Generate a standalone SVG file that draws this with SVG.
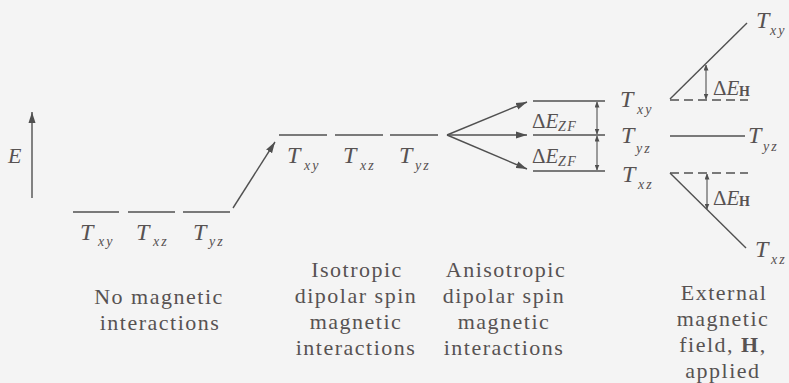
<svg xmlns="http://www.w3.org/2000/svg" width="789" height="383" viewBox="0 0 789 383">
<defs>
<style>
.ln{stroke:#505050;stroke-width:1.4;fill:none}
.lv{stroke:#505050;stroke-width:1.5;fill:none}
.ds{stroke:#505050;stroke-width:1.4;fill:none;stroke-dasharray:9 5}
.ar{stroke:#505050;stroke-width:1.4;fill:none;marker-end:url(#ah)}
.dbl{stroke:#505050;stroke-width:1.1;fill:none;marker-start:url(#sh);marker-end:url(#sh)}
text{font-family:"Liberation Serif","Times New Roman",serif;fill:#575252}
.T{font-style:italic;font-size:24px}
.s{font-style:italic;font-size:14px;letter-spacing:2px}
.d{font-size:21px}
.i{font-style:italic}
.ds2{font-style:italic;font-size:14px;letter-spacing:1.5px}
.h{font-weight:bold;font-size:14px}
.cap{font-size:22px;letter-spacing:1.5px;text-anchor:middle}
</style>
<marker id="ah" markerWidth="12" markerHeight="8" refX="11" refY="4" orient="auto" markerUnits="userSpaceOnUse">
<path d="M0,0.5 L11,4 L0,7.5 z" fill="#505050"/>
</marker>
<marker id="sh" markerWidth="6" markerHeight="5" refX="5.5" refY="2.5" orient="auto-start-reverse" markerUnits="userSpaceOnUse">
<path d="M0,0 L6,2.5 L0,5 z" fill="#505050"/>
</marker>
</defs>
<rect width="789" height="383" fill="#f4f4f4"/>

<g id="axis">
<line class="ar" x1="32" y1="198" x2="32" y2="112"/>
<text x="8" y="163" class="T" style="font-size:22px">E</text>
</g>

<g id="connectors">
<line class="ar" x1="233" y1="208" x2="275" y2="142"/>
<line class="ar" x1="447" y1="135" x2="527" y2="102"/>
<line class="ar" x1="447" y1="135" x2="527" y2="135"/>
<line class="ar" x1="447" y1="135" x2="527" y2="169"/>
</g>

<g id="no-interactions">
<line class="lv" x1="73" y1="212" x2="119" y2="212"/>
<line class="lv" x1="128" y1="212" x2="175" y2="212"/>
<line class="lv" x1="183" y1="212" x2="230" y2="212"/>
<text class="T" x="80" y="240">T</text><text class="s" x="98" y="246">xy</text>
<text class="T" x="136" y="240">T</text><text class="s" x="153" y="246">xz</text>
<text class="T" x="193" y="240">T</text><text class="s" x="209" y="246">yz</text>
<text class="cap" x="159" y="304">No magnetic</text>
<text class="cap" x="160" y="330">interactions</text>
</g>

<g id="isotropic">
<line class="lv" x1="279" y1="135" x2="327" y2="135"/>
<line class="lv" x1="335" y1="135" x2="383" y2="135"/>
<line class="lv" x1="390" y1="135" x2="438" y2="135"/>
<text class="T" x="287" y="163">T</text><text class="s" x="304" y="170">xy</text>
<text class="T" x="343" y="163">T</text><text class="s" x="360" y="170">xz</text>
<text class="T" x="399" y="163">T</text><text class="s" x="415" y="170">yz</text>
<text class="cap" x="357" y="277">Isotropic</text>
<text class="cap" x="356" y="303">dipolar spin</text>
<text class="cap" x="356" y="329">magnetic</text>
<text class="cap" x="356" y="355">interactions</text>
</g>

<g id="anisotropic">
<line class="lv" x1="533" y1="101" x2="605" y2="101"/>
<line class="lv" x1="533" y1="135" x2="605" y2="135"/>
<line class="lv" x1="533" y1="171" x2="605" y2="171"/>
<line class="dbl" x1="597" y1="102" x2="597" y2="134"/>
<line class="dbl" x1="597" y1="136" x2="597" y2="170"/>
<text class="d" x="532" y="128">Δ<tspan class="i">E</tspan></text><text class="ds2" x="558" y="131">ZF</text>
<text class="d" x="532" y="163">Δ<tspan class="i">E</tspan></text><text class="ds2" x="558" y="166">ZF</text>
<text class="T" x="620" y="107">T</text><text class="s" x="637" y="114">xy</text>
<text class="T" x="621" y="143">T</text><text class="s" x="636" y="153">yz</text>
<text class="T" x="622" y="182">T</text><text class="s" x="638" y="189">xz</text>
<text class="cap" x="506" y="277">Anisotropic</text>
<text class="cap" x="504" y="303">dipolar spin</text>
<text class="cap" x="504" y="329">magnetic</text>
<text class="cap" x="504" y="355">interactions</text>
</g>

<g id="field-applied">
<line class="ln" x1="670" y1="99" x2="747" y2="23"/>
<line class="ds" x1="670" y1="100" x2="748" y2="100"/>
<line class="dbl" x1="706" y1="65" x2="706" y2="99"/>
<line class="lv" x1="670" y1="136" x2="745" y2="136"/>
<line class="ds" x1="670" y1="173" x2="748" y2="173"/>
<line class="ln" x1="670" y1="173" x2="746" y2="248"/>
<line class="dbl" x1="707" y1="174" x2="707" y2="209"/>
<text class="d" x="713" y="95">Δ<tspan class="i">E</tspan></text><text class="h" x="739" y="96">H</text>
<text class="d" x="713" y="205">Δ<tspan class="i">E</tspan></text><text class="h" x="739" y="206">H</text>
<text class="T" x="756" y="28">T</text><text class="s" x="770" y="35">xy</text>
<text class="T" x="748" y="143">T</text><text class="s" x="763" y="151">yz</text>
<text class="T" x="755" y="257">T</text><text class="s" x="771" y="264">xz</text>
<text class="cap" x="724" y="300">External</text>
<text class="cap" x="723" y="326">magnetic</text>
<text class="cap" x="723" y="352">field, <tspan font-weight="bold">H</tspan>,</text>
<text class="cap" x="723" y="378">applied</text>
</g>
</svg>
